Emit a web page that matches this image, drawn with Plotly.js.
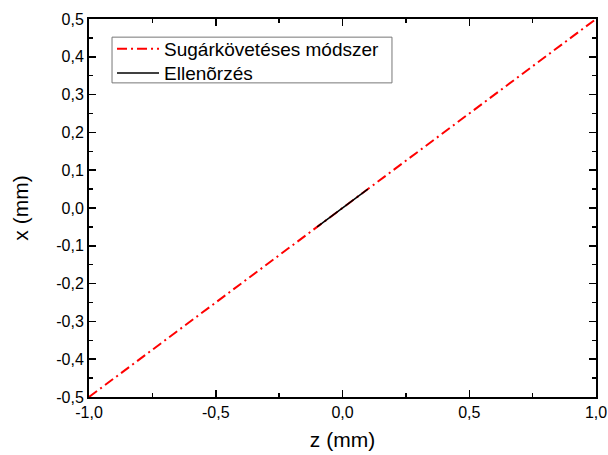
<!DOCTYPE html>
<html>
<head>
<meta charset="utf-8">
<script src="https://cdn.plot.ly/plotly-3.0.1.min.js"></script>
<style>
  html, body { margin: 0; padding: 0; background: #fff; }
  #chart { width: 608px; height: 455px; }
</style>
</head>
<body>
<div id="chart"></div>
<script>
// Ray-tracing result across the full range
const rayZ = [-1.0, -0.5, 0.0, 0.5, 1.0];
const rayX = [-0.5, -0.25, 0.0, 0.25, 0.5];

// Check segment near the origin
const checkZ = [-0.1, 0.0, 0.1];
const checkX = [-0.05, 0.0, 0.05];

const rayName = 'Sugárkövetéses módszer';
const checkName = 'Ellenõrzés';

// Tick values and their labels (comma decimals, plain hyphen minus)
const zTicks = [-1.0, -0.5, 0.0, 0.5, 1.0];
const zTickText = ['-1,0', '-0,5', '0,0', '0,5', '1,0'];
const xTicks = [-0.5, -0.4, -0.3, -0.2, -0.1, 0.0, 0.1, 0.2, 0.3, 0.4, 0.5];
const xTickText = ['-0,5', '-0,4', '-0,3', '-0,2', '-0,1', '0,0', '0,1', '0,2', '0,3', '0,4', '0,5'];

const FONT = 'Liberation Sans, Arial, sans-serif';

const traces = [
  {
    x: rayZ, y: rayX, name: rayName, mode: 'lines', type: 'scatter', legend: 'legend',
    line: { color: '#ff0000', width: 2, dash: '10px,4px,2px,4px' }
  },
  {
    x: checkZ, y: checkX, name: checkName, mode: 'lines', type: 'scatter', legend: 'legend2',
    line: { color: '#000000', width: 1.5 }
  }
];

const axisCommon = {
  showline: true, linewidth: 2, linecolor: '#000', mirror: 'allticks',
  ticks: 'inside', ticklen: 7, tickwidth: 1.5, tickcolor: '#000',
  showgrid: false, zeroline: false, tickmode: 'array',
  tickfont: { family: FONT, size: 16, color: '#000' }
};

// One legend entry per row, with a shared frame drawn around both
const legendCommon = {
  xanchor: 'left', yanchor: 'middle', x: 0.0454,
  bgcolor: 'rgba(0,0,0,0)', borderwidth: 0,
  font: { family: FONT, size: 19, color: '#000' },
  itemwidth: 42
};

const layout = {
  width: 608, height: 455,
  margin: { l: 89, r: 12, t: 19, b: 58 },
  paper_bgcolor: '#fff', plot_bgcolor: '#fff',
  font: { family: FONT, color: '#000' },
  xaxis: Object.assign({}, axisCommon, {
    range: [-1.0, 1.0], tickvals: zTicks, ticktext: zTickText,
    minor: { tickvals: [-0.75, -0.25, 0.25, 0.75], ticks: 'inside', ticklen: 4, tickwidth: 1.5, tickcolor: '#000' },
    title: { text: 'z (mm)', standoff: 12, font: { family: FONT, size: 21, color: '#000' } }
  }),
  yaxis: Object.assign({}, axisCommon, {
    range: [-0.5, 0.5], tickvals: xTicks, ticktext: xTickText,
    minor: { dtick: 0.05, tick0: 0, ticks: 'inside', ticklen: 4, tickwidth: 1.5, tickcolor: '#000' },
    title: { text: 'x (mm)', standoff: 22, font: { family: FONT, size: 21, color: '#000' } }
  }),
  showlegend: true,
  legend: Object.assign({}, legendCommon, { y: 0.9206 }),
  legend2: Object.assign({}, legendCommon, { y: 0.857 }),
  shapes: [
    {
      type: 'rect', xref: 'paper', yref: 'paper',
      x0: 0.0454, x1: 0.5976, y0: 0.831, y1: 0.952,
      line: { color: '#777', width: 1 }, fillcolor: '#fff', layer: 'above'
    }
  ]
};

Plotly.newPlot('chart', traces, layout, { displayModeBar: false, staticPlot: true });
</script>
</body>
</html>
